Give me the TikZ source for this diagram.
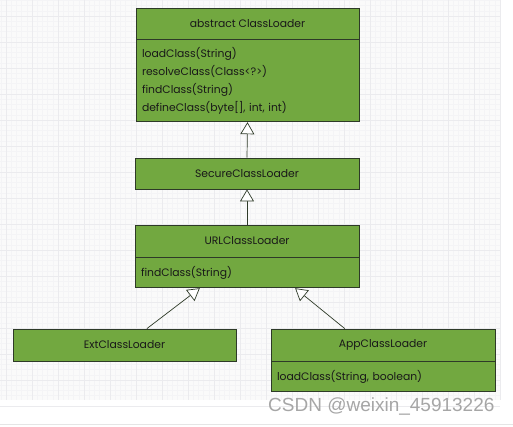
\documentclass[tikz,border=0pt]{standalone}
\usepackage{fontspec}
\setmainfont{Poppins}
\setsansfont{Liberation Sans}
\usetikzlibrary{arrows.meta,calc,positioning}
\definecolor{umlgreen}{HTML}{72A840}
\definecolor{umlline}{HTML}{2E3A28}
\definecolor{gridmajor}{HTML}{EBEBEE}
\definecolor{gridminor}{HTML}{F4F4F6}

\tikzset{
  classhead/.style={draw=umlline, line width=0.8pt, fill=umlgreen, inner sep=0pt,
    minimum height=31pt, text=black!90, font=\fontsize{10.8}{12}\selectfont},
  classbody/.style={draw=umlline, line width=0.8pt, fill=umlgreen, inner xsep=6pt, inner ysep=0pt,
    anchor=north, align=left, text=black!90, font=\fontsize{10.8}{18}\selectfont},
  inherit/.style={draw=umlline, line width=0.7pt}
}

\begin{document}
\begin{tikzpicture}[x=1pt,y=-1pt,>={Triangle[open,width=14pt,length=12pt,fill=white]}]
\useasboundingbox (0,0) rectangle (513,426);
% background grid
\fill[white] (0,0) rectangle (513,426);
\fill[black!2] (0,0) rectangle (500,400);
\foreach \k in {0,...,96} {
  \draw[gridminor, line width=0.4pt] ({0.8+5.2*\k},0) -- ({0.8+5.2*\k},400);
}
\foreach \k in {0,...,76} {
  \draw[gridminor, line width=0.4pt] (0,{0.4+5.2*\k}) -- (500,{0.4+5.2*\k});
}
\foreach \k in {0,...,19} {
  \draw[gridmajor, line width=0.6pt] ({6+26*\k},0) -- ({6+26*\k},400);
}
\foreach \k in {0,...,15} {
  \draw[gridmajor, line width=0.6pt] (0,{16+26*\k}) -- (500,{16+26*\k});
}
\draw[black!10, line width=1pt] (0,424.5) -- (513,424.5);

% classes
\node[classhead, minimum width=223pt] (cl) at (247.5,23.5) {abstract ClassLoader};
\node[classbody, minimum width=223pt, text width=211pt, minimum height=82pt] (cl-body) at (cl.south)
  {loadClass(String)\\resolveClass(Class<?>)\\findClass(String)\\defineClass(byte[], int, int)};

\node[classhead, minimum width=224pt] (secure) at (247,173.5) {SecureClassLoader};

\node[classhead, minimum width=224pt, minimum height=32pt] (url) at (247,241) {URLClassLoader};
\node[classbody, minimum width=224pt, text width=212pt, minimum height=30pt] (url-body) at (url.south)
  {findClass(String)};

\node[classhead, minimum width=223pt, minimum height=32pt] (ext) at (124.5,345) {ExtClassLoader};

\node[classhead, minimum width=224pt, minimum height=32pt] (app) at (383,345) {AppClassLoader};
\node[classbody, minimum width=224pt, text width=212pt, minimum height=30pt] (app-body) at (app.south)
  {loadClass(String, boolean)};

% inheritance
\draw[inherit,->] (secure.north) -- (cl-body.south);
\draw[inherit,->] (url.north) -- (secure.south);
\draw[inherit,->] ($(ext.north west)!0.6!(ext.north east)$) -- ($(url-body.south west)!0.29!(url-body.south east)$);
\draw[inherit,->] ($(app.north west)!0.33!(app.north east)$) -- ($(url-body.south west)!0.714!(url-body.south east)$);

\node[anchor=east, text=black!35, font=\sffamily\fontsize{19}{20}\selectfont] (mark) at (498,406) {CSDN @weixin\_45913226};
\end{tikzpicture}
\end{document}
